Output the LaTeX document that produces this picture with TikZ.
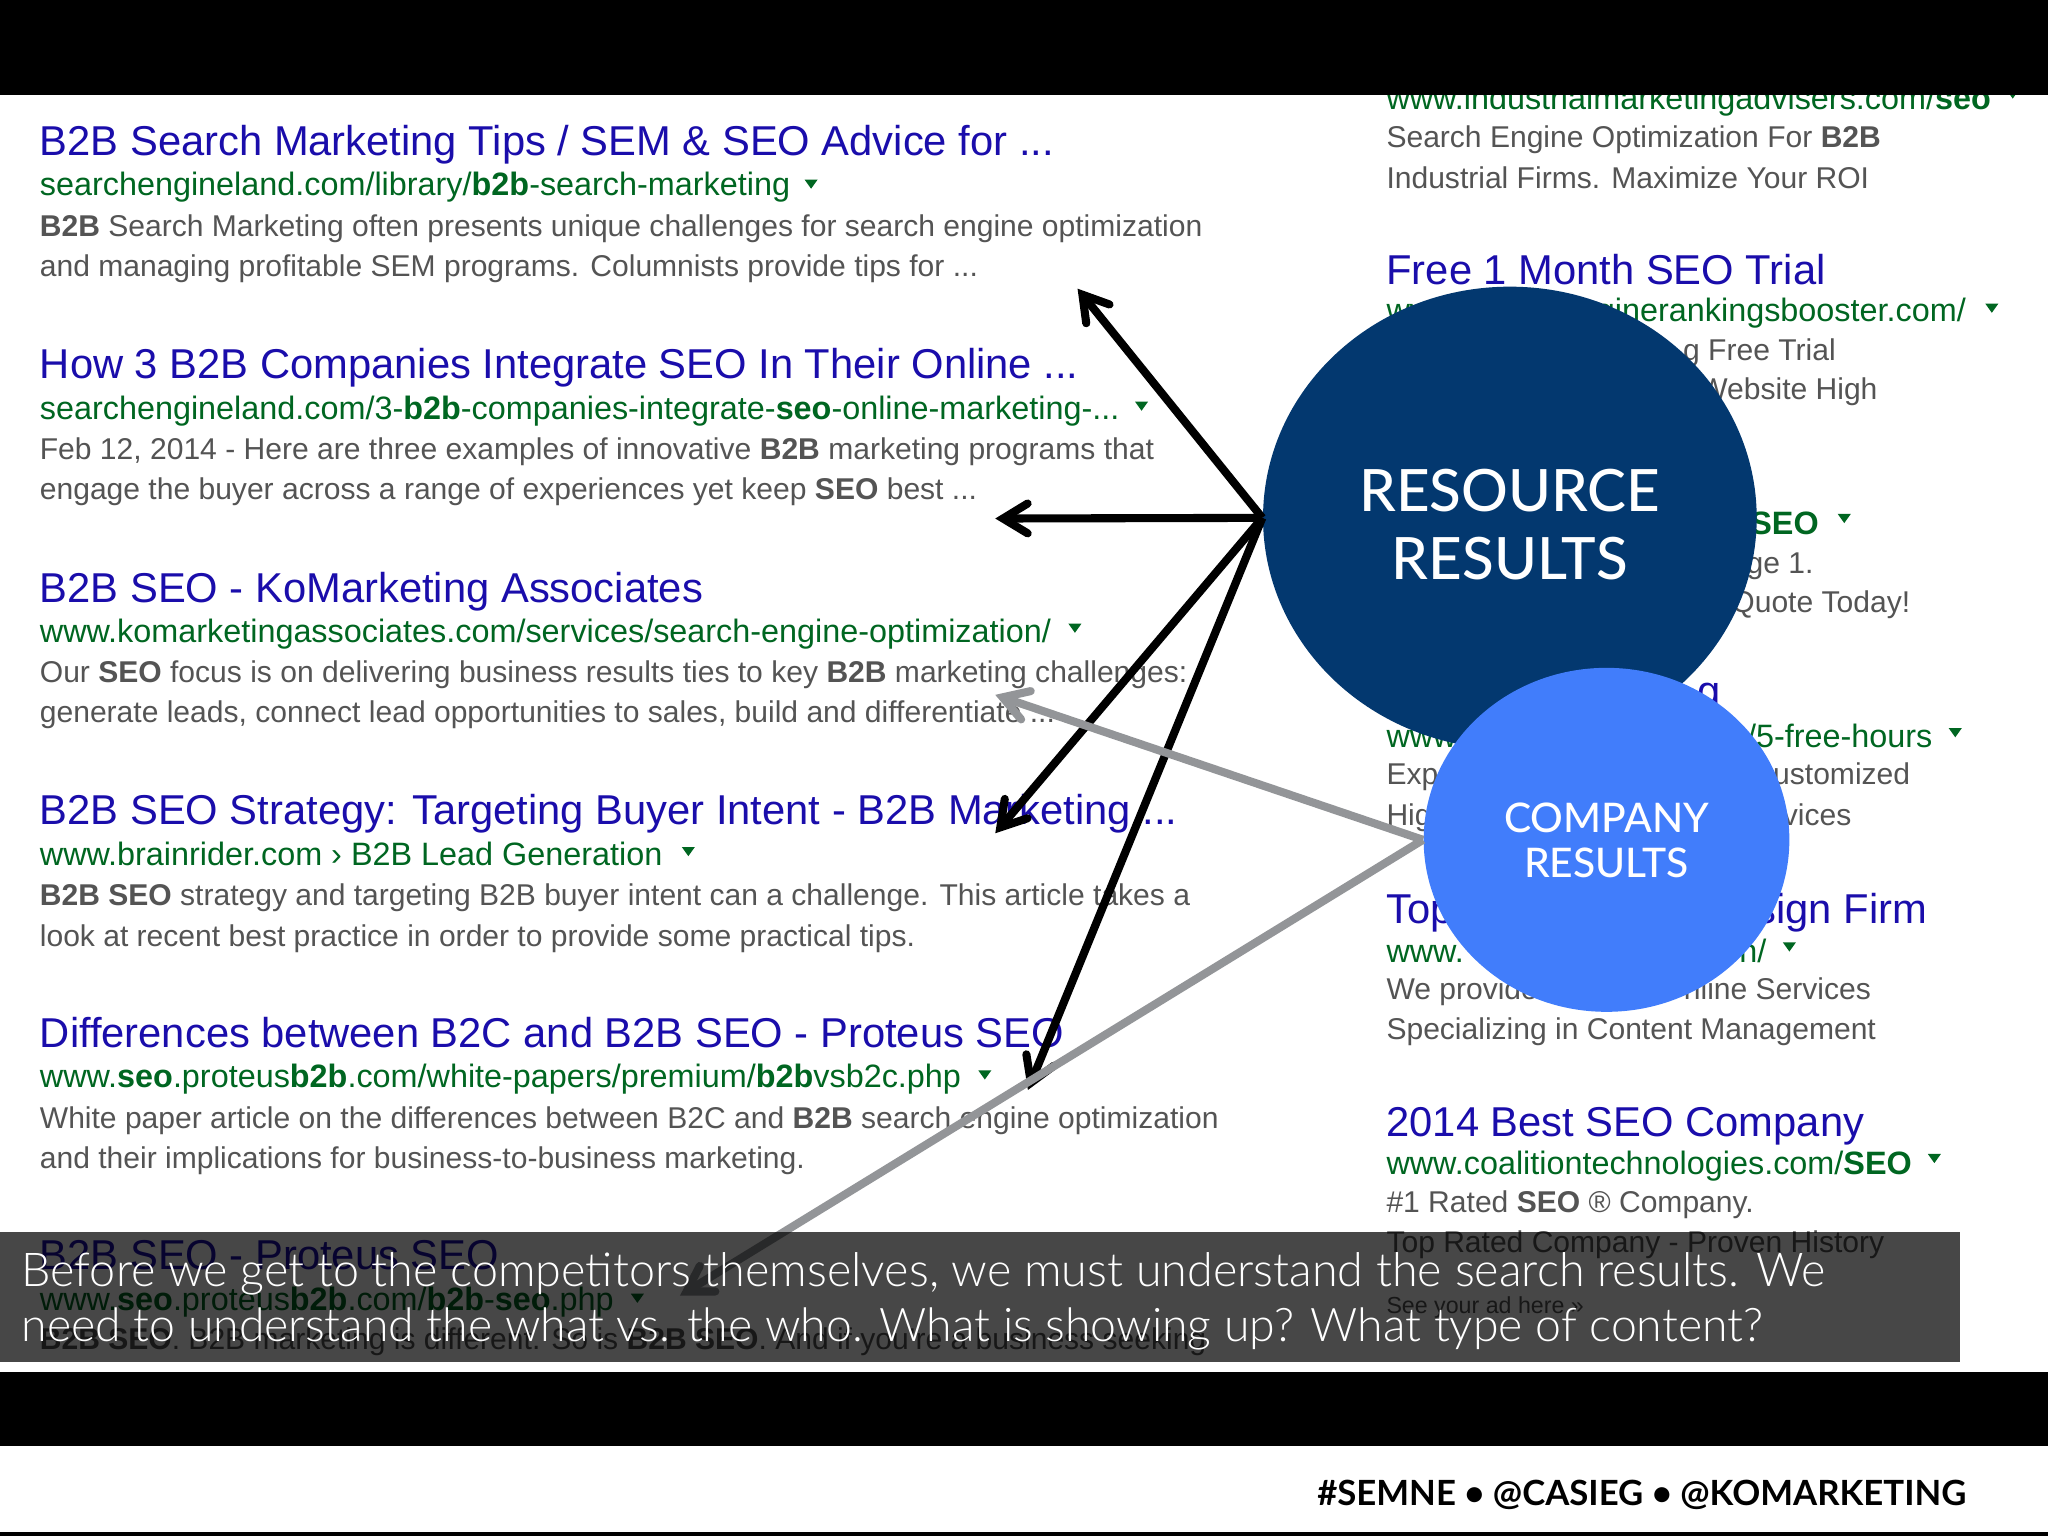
\documentclass[tikz,border=0pt]{standalone}
\usepackage{fontspec}
\usetikzlibrary{arrows.meta,shapes.geometric}
\setmainfont{Liberation Sans}
\newfontfamily\latofont{Lato}
\newfontfamily\latomed{Lato Medium}
\newfontfamily\latolight{Lato Light}
\definecolor{gblue}{HTML}{1A0DAB}
\definecolor{ggreen}{HTML}{006621}
\definecolor{ggrey}{HTML}{545454}
\definecolor{resblue}{HTML}{03386F}
\definecolor{compblue}{HTML}{417DFB}
\definecolor{arrowgrey}{HTML}{939598}
\tikzset{
  txt/.style={anchor=base west,inner sep=0pt},
  ttl/.style={txt,text=gblue,font=\fontsize{11.87}{12}\selectfont},
  urlt/.style={txt,text=ggreen,font=\fontsize{9.21}{10}\selectfont},
  snip/.style={txt,text=ggrey,font=\fontsize{8.55}{10}\selectfont},
  small/.style={txt,text=ggrey,font=\fontsize{6.6}{8}\selectfont},
  blackarrow/.style={draw=black,line width=2.3pt,-{Straight Barb[length=7pt,width=8.5pt,line width=2.3pt,line cap=round,line join=miter]}},
  greyarrow/.style={draw=arrowgrey,line width=2.3pt,-{Straight Barb[length=7pt,width=8.5pt,line width=2.3pt,line cap=round,line join=miter]}},
  drop/.style={fill=ggreen,draw=none},
  bigc/.style={ellipse,fill=resblue,draw=none,minimum width=4.937cm,minimum height=4.624cm,inner sep=0pt},
  smallc/.style={ellipse,fill=compblue,draw=none,minimum width=3.657cm,minimum height=3.44cm,inner sep=0pt},
}
\newcommand{\dropat}[2]{\fill[drop] (#1-5,#2-3.5) -- (#1+5,#2-3.5) -- (#1,#2+3.5) -- cycle;}
\newcommand{\B}[1]{\textbf{#1}}
\begin{document}
\begin{tikzpicture}[x=0.0130612cm,y=-0.0130612cm]
\useasboundingbox (0,0) rectangle (1568,1176);
\fill[white] (0,0) rectangle (1568,1176);
% left column
\node[ttl] (l1t) at (30,119) {B2B Search Marketing Tips / SEM \& SEO Advice for ...};
\node[urlt] (l1u) at (30,150) {searchengineland.com/library/\B{b2b}-search-marketing};
\node[snip] (l1a) at (30,181) {\B{B2B} Search Marketing often presents unique challenges for search engine optimization};
\node[snip] (l1b) at (30,212) {and managing profitable SEM programs. Columnists provide tips for ...};
\dropat{621}{141}
\node[ttl] (l2t) at (30,290) {How 3 B2B Companies Integrate SEO In Their Online ...};
\node[urlt] (l2u) at (30,321) {searchengineland.com/3-\B{b2b}-companies-integrate-\B{seo}-online-marketing-...};
\node[snip] (l2a) at (30,352) {Feb 12, 2014 - Here are three examples of innovative \B{B2B} marketing programs that};
\node[snip] (l2b) at (30,382.5) {engage the buyer across a range of experiences yet keep \B{SEO} best ...};
\dropat{874}{311}
\node[ttl] (l3t) at (30,461) {B2B SEO - KoMarketing Associates};
\node[urlt] (l3u) at (30,492) {www.komarketingassociates.com/services/search-engine-optimization/};
\node[snip] (l3a) at (30,522.5) {Our \B{SEO} focus is on delivering business results ties to key \B{B2B} marketing challenges:};
\node[snip] (l3b) at (30,553.5) {generate leads, connect lead opportunities to sales, build and differentiate ...};
\dropat{823}{481}
\node[ttl] (l4t) at (30,631) {B2B SEO Strategy: Targeting Buyer Intent - B2B Marketing ...};
\node[urlt] (l4u) at (30,663) {www.brainrider.com › B2B Lead Generation};
\node[snip] (l4a) at (30,693.5) {\B{B2B SEO} strategy and targeting B2B buyer intent can a challenge. This article takes a};
\node[snip] (l4b) at (30,724.5) {look at recent best practice in order to provide some practical tips.};
\dropat{527}{652}
\node[ttl] (l5t) at (30,802) {Differences between B2C and B2B SEO - Proteus SEO};
\node[urlt] (l5u) at (30,833) {www.\B{seo}.proteus\B{b2b}.com/white-papers/premium/\B{b2b}vsb2c.php};
\node[snip] (l5a) at (30,864) {White paper article on the differences between B2C and \B{B2B} search engine optimization};
\node[snip] (l5b) at (30,894.5) {and their implications for business-to-business marketing.};
\dropat{754}{823}
\node[ttl] (l6t) at (30,972) {B2B SEO - Proteus SEO};
\node[urlt] (l6u) at (30,1003) {www.\B{seo}.proteus\B{b2b}.com/\B{b2b}-\B{seo}.php};
\node[snip] (l6a) at (30,1033) {\B{B2B SEO}. B2B marketing is different. So is \B{B2B SEO}. And if you're a business seeking};
\dropat{488}{994}
% right column
\node[urlt] (r1u) at (1061,84) {www.industrialmarketingadvisers.com/\B{seo}};
\dropat{1541}{72}
\node[snip] (r1a) at (1061,113) {Search Engine Optimization For \B{B2B}};
\node[snip] (r1b) at (1061,144) {Industrial Firms. Maximize Your ROI};
\node[ttl] (r2t) at (1061,218) {Free 1 Month SEO Trial};
\node[urlt] (r2u) at (1061,246) {www.searchenginerankingsbooster.com/};
\dropat{1525}{236}
\node[snip,anchor=base east] (r2a) at (1406,276) {g Free Trial};
\node[snip,anchor=base east] (r2b) at (1438,306) {Website High};
\node[urlt,anchor=base east] (r3u) at (1393,409) {\B{SEO}};
\dropat{1412}{397}
\node[snip,anchor=base east] (r3a) at (1389,439) {ge 1.};
\node[snip,anchor=base east] (r3b) at (1463,469) {Quote Today!};
\node[ttl,anchor=base east] (r4t) at (1318,540) {g};
\node[urlt,anchor=base west] (r4v) at (1061,572) {www};
\node[urlt,anchor=base east] (r4u) at (1480,572) {/5-free-hours};
\dropat{1497}{561}
\node[snip] (r4a) at (1061,601) {Exp};
\node[snip,anchor=base east] (r4b) at (1463,601) {ustomized};
\node[snip] (r4c) at (1061,632) {Hig};
\node[snip,anchor=base east] (r4d) at (1418,632) {vices};
\node[ttl] (r5t) at (1061,707) {Top};
\node[ttl,anchor=base east] (r5s) at (1476,707) {sign Firm};
\node[urlt] (r5u) at (1061,737) {www.};
\node[urlt,anchor=base east] (r5v) at (1353,737) {n/};
\dropat{1370}{725}
\node[snip] (r5a) at (1061,765) {We provide};
\node[snip,anchor=base east] (r5b) at (1433,765) {nline Services};
\node[snip] (r5c) at (1061,796) {Specializing in Content Management};
\node[ttl] (r6t) at (1061,870) {2014 Best SEO Company};
\node[urlt] (r6u) at (1061,899) {www.coalitiontechnologies.com/\B{SEO}};
\dropat{1481}{887}
\node[snip] (r6a) at (1061,928) {\#1 Rated \B{SEO} ® Company.};
\node[snip] (r6b) at (1061,959) {Top Rated Company - Proven History};
\node[small] (r6c) at (1061,1006) {See your ad here »};
% circles
\node[bigc] (res) at (1156,396.5) {};
\node[smallc] (comp) at (1230,643) {};
\node[anchor=base,inner sep=0pt,text=white,font=\latomed\fontsize{16.6}{19}\selectfont] (res1) at (1156,391.5) {RESOURCE};
\node[anchor=base,inner sep=0pt,text=white,font=\latomed\fontsize{16.6}{19}\selectfont] (res2) at (1156,443.5) {RESULTS};
\node[anchor=base,inner sep=0pt,text=white,font=\latomed\fontsize{11.6}{14}\selectfont] (comp1) at (1230,637.5) {COMPANY};
\node[anchor=base,inner sep=0pt,text=white,font=\latomed\fontsize{11.6}{14}\selectfont] (comp2) at (1230,672) {RESULTS};
% arrows
\coordinate (a1) at (825,221);
\coordinate (a2) at (762,397);
\coordinate (a3) at (762,638);
\coordinate (a4) at (787,834.5);
\coordinate (g1) at (762,532);
\coordinate (g2) at (520.6,992);
\draw[blackarrow] (res.west) -- (a1);
\draw[blackarrow] (res.west) -- (a2);
\draw[blackarrow] (res.west) -- (a3);
\draw[blackarrow] (res.west) -- (a4);
\draw[greyarrow] (comp.west) -- (g1);
\draw[greyarrow] (comp.west) -- (g2);
% bars
\fill[black] (0,0) rectangle (1568,72.5);
\fill[black] (0,1050.5) rectangle (1568,1107);
\fill[black] (0,1173) rectangle (1568,1176);
% caption band
\fill[black,opacity=0.72] (0,943) rectangle (1501,1043);
\node[anchor=base west,inner sep=0pt,text=white,font=\latolight\fontsize{13.28}{15}\selectfont] (cap1) at (16,985) {Before we get to the competitors themselves, we must understand the search results. We};
\node[anchor=base west,inner sep=0pt,text=white,font=\latolight\fontsize{13.2}{15}\selectfont] (cap2) at (16,1027) {need to understand the what vs. the who. What is showing up? What type of content?};
\node[anchor=base east,inner sep=0pt,text=black,font=\latofont\bfseries\fontsize{9.88}{12}\selectfont] (foot) at (1506,1153) {\#SEMNE • @CASIEG • @KOMARKETING};
\end{tikzpicture}
\end{document}
